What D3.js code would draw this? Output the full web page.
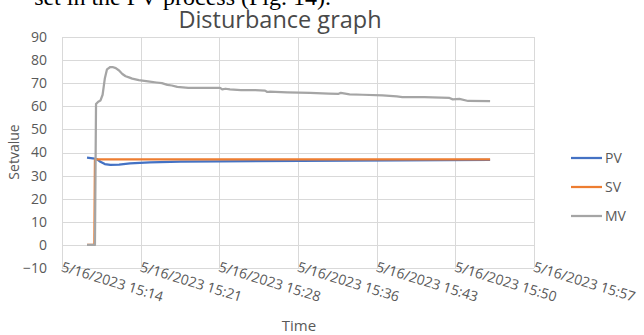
<!DOCTYPE html>
<html>
<head>
<meta charset="utf-8">
<script src="https://cdn.jsdelivr.net/npm/d3@7"></script>
<style>
  body { margin: 0; background: #fff; }
  svg { display: block; }
</style>
</head>
<body>
<div id="chart"></div>
<script>
// minutes after 15:14
var tickLabels = ["5/16/2023 15:14", "5/16/2023 15:21", "5/16/2023 15:28", "5/16/2023 15:36",
  "5/16/2023 15:43", "5/16/2023 15:50", "5/16/2023 15:57"]
var yTicks = [-10, 0, 10, 20, 30, 40, 50, 60, 70, 80, 90]

var mvTime = [2.28, 3.0, 3.05, 3.1, 3.3, 3.5, 3.7, 3.9, 4.1, 4.4, 4.6, 4.9, 5.2, 5.5, 5.8, 6.1, 6.4,
  7.0, 7.5, 8.0, 8.6, 9.1, 9.6, 10.0, 10.5, 11.5, 13.0, 14.4, 14.6, 14.9, 15.3, 16.3, 17.6, 18.5, 18.7,
  18.9, 20.5, 22.6, 24.3, 25.2, 25.4, 26.2, 27.4, 29.2, 30.5, 31.0, 33.0, 35.3, 35.6, 36.2, 37.0, 39.0]
var mvValues = [0, 0, 30, 61, 62, 62.5, 65, 72, 76, 77, 77, 76.5, 75.5, 74, 73, 72.5, 72,
  71.3, 71, 70.7, 70.3, 70, 69.3, 69, 68.4, 68, 68, 68, 67.3, 67.6, 67.3, 67, 67, 66.8, 66.2,
  66.3, 66, 65.8, 65.5, 65.4, 65.8, 65.2, 65, 64.7, 64.3, 64, 64, 63.6, 63, 63.2, 62.3, 62.2]

var pvTime = [2.28, 2.8, 3.2, 3.5, 3.9, 4.4, 5.2, 6.2, 8.0, 10.8, 14.4, 21.7, 30.8, 39.0]
var pvValues = [37.8, 37.5, 37, 36, 35, 34.6, 34.8, 35.3, 35.7, 36, 36.2, 36.4, 36.6, 36.8]

var svTime = [2.28, 2.95, 3.0, 39.0]
var svValues = [0, 0, 37, 37]

var seriesNames = ["PV", "SV", "MV"]
var seriesColors = ["#4472c4", "#ed7d31", "#a5a5a5"]

var width = 644
var height = 335
var plotLeft = 62, plotRight = 534, plotTop = 37, plotBottom = 268
var font = "'Open Sans', sans-serif"

var svg = d3.select("#chart").append("svg")
  .attr("width", width).attr("height", height)

// page text cut off above the figure
svg.append("text")
  .attr("x", 331).attr("y", 5)
  .attr("text-anchor", "end")
  .style("font-family", "'Liberation Serif', serif")
  .style("font-size", "24px")
  .style("fill", "#000")
  .text("set in the PV process (Fig. 14).")

var x = d3.scaleLinear().domain([0, 43]).range([plotLeft, plotRight])
var y = d3.scaleLinear().domain([-10, 90]).range([plotBottom, plotTop])

var tickPos = tickLabels.map(function(d, i) { return i * 43 / (tickLabels.length - 1) })

var grid = svg.append("g").attr("stroke", "#d9d9d9").attr("stroke-width", 1)
grid.selectAll("line.h").data(yTicks).enter().append("line")
  .attr("x1", plotLeft).attr("x2", plotRight)
  .attr("y1", function(d) { return Math.round(y(d)) + 0.5 })
  .attr("y2", function(d) { return Math.round(y(d)) + 0.5 })
grid.selectAll("line.v").data(tickPos).enter().append("line")
  .attr("y1", plotTop).attr("y2", plotBottom)
  .attr("x1", function(d) { return Math.round(x(d)) + 0.5 })
  .attr("x2", function(d) { return Math.round(x(d)) + 0.5 })

// y axis labels
var yAxis = svg.append("g")
  .attr("transform", "translate(" + (plotLeft - 15) + ",0)")
  .call(d3.axisLeft(y).tickValues(yTicks).tickSize(0).tickPadding(0))
yAxis.select(".domain").remove()
yAxis.selectAll("text")
  .style("font-family", font).style("font-size", "14px").attr("fill", "#595959")

// x axis labels, slanted, hung from the 0 line
var xAxis = svg.append("g")
  .attr("transform", "translate(0," + y(0) + ")")
  .call(d3.axisBottom(x).tickValues(tickPos).tickSize(0)
    .tickFormat(function(d, i) { return tickLabels[i] }))
xAxis.select(".domain").remove()
xAxis.selectAll("text")
  .style("font-family", font).style("font-size", "14px").attr("fill", "#595959")
  .attr("text-anchor", "start")
  .attr("y", 0).attr("dy", 0)
  .attr("transform", "translate(-2,26) rotate(17)")

var line = d3.line()
  .x(function(d) { return x(d[0]) })
  .y(function(d) { return y(d[1]) })

// Excel order: PV, then SV, then MV on top
var series = [d3.zip(pvTime, pvValues), d3.zip(svTime, svValues), d3.zip(mvTime, mvValues)]
series.forEach(function(s, i) {
  svg.append("path")
    .datum(s)
    .attr("fill", "none")
    .attr("stroke", seriesColors[i])
    .attr("stroke-width", 2.25)
    .attr("stroke-linejoin", "round")
    .attr("d", line)
})

// titles
svg.append("text")
  .attr("x", 280).attr("y", 28)
  .attr("text-anchor", "middle")
  .style("font-family", font).style("font-size", "23.5px")
  .style("fill", "#494949")
  .text("Disturbance graph")

svg.append("text")
  .attr("x", 299).attr("y", 331)
  .attr("text-anchor", "middle")
  .style("font-family", font).style("font-size", "15px")
  .style("fill", "#595959")
  .text("Time")

svg.append("text")
  .attr("transform", "translate(19,152) rotate(-90)")
  .attr("text-anchor", "middle")
  .style("font-family", font).style("font-size", "14px")
  .style("fill", "#595959")
  .text("Setvalue")

// legend
var legend = svg.append("g").selectAll("g")
  .data(seriesNames).enter().append("g")
  .attr("transform", function(d, i) { return "translate(571," + (158 + i * 29) + ")" })
legend.append("line")
  .attr("x1", 0).attr("x2", 31)
  .attr("stroke", function(d, i) { return seriesColors[i] })
  .attr("stroke-width", 2.25)
legend.append("text")
  .attr("x", 34).attr("dy", "0.35em")
  .style("font-family", font).style("font-size", "14px")
  .style("fill", "#595959")
  .text(function(d) { return d })
</script>
</body>
</html>
